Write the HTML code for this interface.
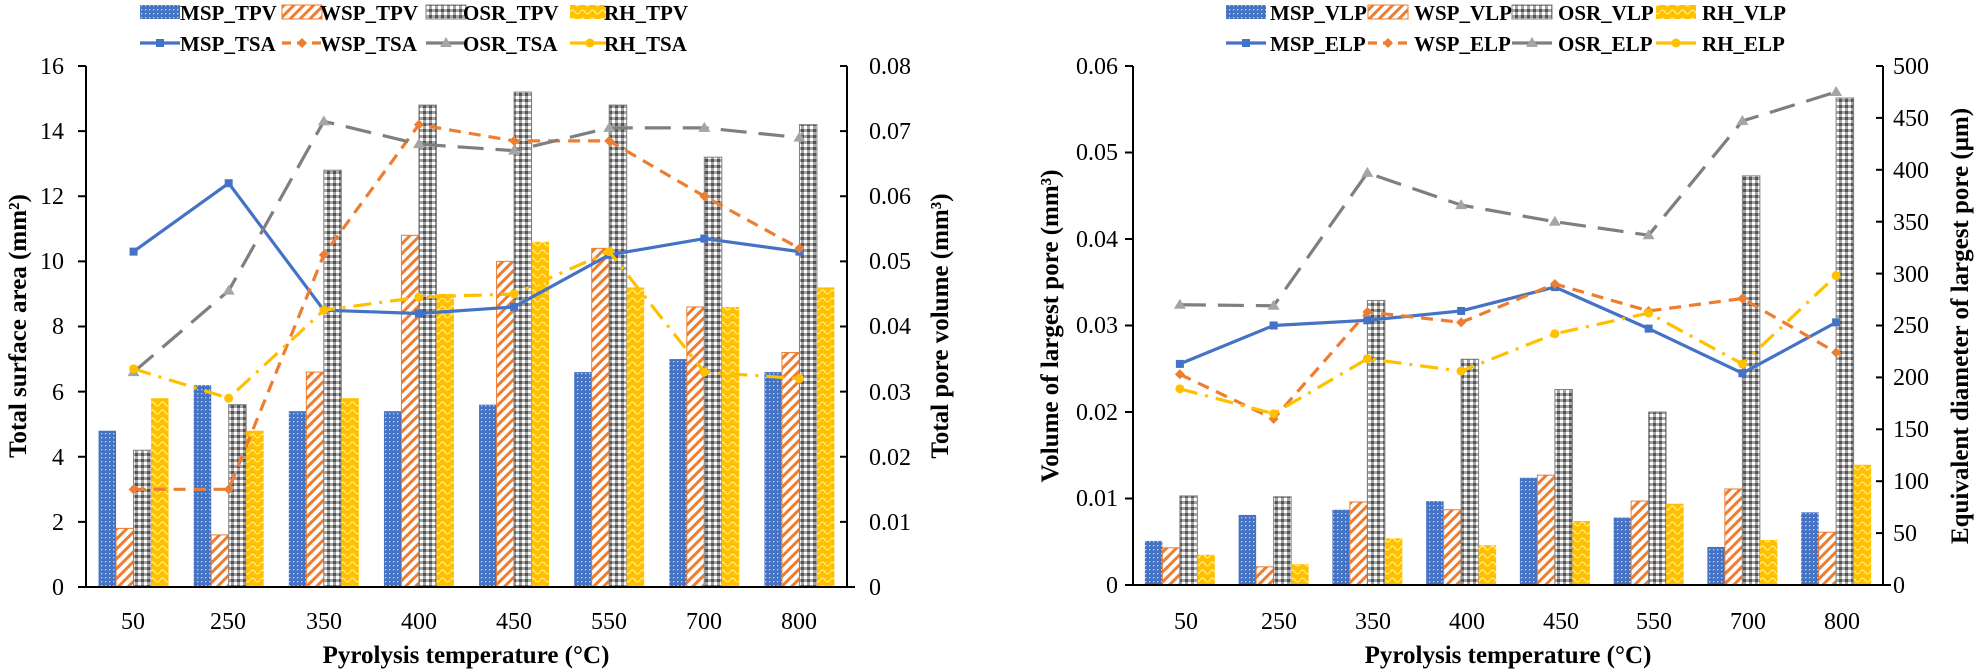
<!DOCTYPE html>
<html><head><meta charset="utf-8"><style>
html,body{margin:0;padding:0;background:#fff;}
svg{display:block;font-family:"Liberation Serif",serif;}
.t{font-size:24px;fill:#000}
.b{font-size:25px;font-weight:bold;fill:#000}
.l{font-size:21px;font-weight:bold;fill:#000}
</style></head><body>
<svg id="s" width="1984" height="670" viewBox="0 0 1984 670" xmlns="http://www.w3.org/2000/svg">
<defs>
<pattern id="pM" width="4" height="4" patternUnits="userSpaceOnUse"><rect width="4" height="4" fill="#4472C4"/><rect x="1" y="1" width="1.3" height="1.3" fill="#c9d6f0"/></pattern>
<pattern id="pW" width="7" height="7" patternUnits="userSpaceOnUse" patternTransform="rotate(45)"><rect width="7" height="7" fill="#fff"/><rect width="3" height="7" fill="#ED7D31"/></pattern>
<pattern id="pO" width="6" height="6" patternUnits="userSpaceOnUse"><rect width="6" height="6" fill="#a5a5a5"/><rect width="3" height="3" fill="#fff"/><rect x="3" y="3" width="3" height="3" fill="#555"/></pattern>
<pattern id="pR" width="10" height="8" patternUnits="userSpaceOnUse"><rect width="10" height="8" fill="#FFC000"/><path d="M0 4 Q2.5 0 5 4 T10 4" stroke="#fff3c0" stroke-width="1" fill="none"/></pattern>
</defs>
<g id="g"></g>
<g class="t" text-anchor="end">
<text x="64" y="74">16</text><text x="64" y="139">14</text><text x="64" y="204">12</text><text x="64" y="269">10</text><text x="64" y="334">8</text><text x="64" y="400">6</text><text x="64" y="465">4</text><text x="64" y="530">2</text><text x="64" y="595">0</text>
</g>
<g class="t" text-anchor="start">
<text x="869" y="74">0.08</text><text x="869" y="139">0.07</text><text x="869" y="204">0.06</text><text x="869" y="269">0.05</text><text x="869" y="334">0.04</text><text x="869" y="400">0.03</text><text x="869" y="465">0.02</text><text x="869" y="530">0.01</text><text x="869" y="595">0</text>
</g>
<g class="t" text-anchor="middle">
<text x="133" y="629">50</text><text x="228" y="629">250</text><text x="324" y="629">350</text><text x="419" y="629">400</text><text x="514" y="629">450</text><text x="609" y="629">550</text><text x="704" y="629">700</text><text x="799" y="629">800</text>
</g>
<text class="b" x="466" y="663" text-anchor="middle">Pyrolysis temperature (°C)</text>
<text class="b" transform="translate(26,326) rotate(-90)" text-anchor="middle">Total surface area (mm²)</text>
<text class="b" transform="translate(948,326) rotate(-90)" text-anchor="middle">Total pore volume (mm³)</text>
<g class="t" text-anchor="end">
<text x="1118" y="74">0.06</text><text x="1118" y="160">0.05</text><text x="1118" y="247">0.04</text><text x="1118" y="333">0.03</text><text x="1118" y="420">0.02</text><text x="1118" y="506">0.01</text><text x="1118" y="593">0</text>
</g>
<g class="t" text-anchor="start">
<text x="1893" y="74">500</text><text x="1893" y="126">450</text><text x="1893" y="178">400</text><text x="1893" y="230">350</text><text x="1893" y="282">300</text><text x="1893" y="333">250</text><text x="1893" y="385">200</text><text x="1893" y="437">150</text><text x="1893" y="489">100</text><text x="1893" y="541">50</text><text x="1893" y="593">0</text>
</g>
<g class="t" text-anchor="middle">
<text x="1186" y="629">50</text><text x="1279" y="629">250</text><text x="1373" y="629">350</text><text x="1467" y="629">400</text><text x="1561" y="629">450</text><text x="1654" y="629">550</text><text x="1748" y="629">700</text><text x="1842" y="629">800</text>
</g>
<text class="b" x="1508" y="663" text-anchor="middle">Pyrolysis temperature (°C)</text>
<text class="b" transform="translate(1058,326) rotate(-90)" text-anchor="middle">Volume of largest pore (mm³)</text>
<text class="b" transform="translate(1968,326) rotate(-90)" text-anchor="middle">Equivalent diameter of largest pore (μm)</text>
<g class="l">
<text x="180" y="20">MSP_TPV</text><text x="320" y="20">WSP_TPV</text><text x="463" y="20">OSR_TPV</text><text x="604" y="20">RH_TPV</text>
<text x="180" y="51">MSP_TSA</text><text x="320" y="51">WSP_TSA</text><text x="463" y="51">OSR_TSA</text><text x="604" y="51">RH_TSA</text>
<text x="1270" y="20">MSP_VLP</text><text x="1414" y="20">WSP_VLP</text><text x="1558" y="20">OSR_VLP</text><text x="1702" y="20">RH_VLP</text>
<text x="1270" y="51">MSP_ELP</text><text x="1414" y="51">WSP_ELP</text><text x="1558" y="51">OSR_ELP</text><text x="1702" y="51">RH_ELP</text>
</g>
</svg>
<script>
var g=document.getElementById('g'),NS='http://www.w3.org/2000/svg';
function el(t,a){var e=document.createElementNS(NS,t);for(var k in a)e.setAttribute(k,a[k]);g.appendChild(e);return e;}
var pats=['url(#pM)','url(#pW)','url(#pO)','url(#pR)'],cols=['#4472C4','#ED7D31','#7f7f7f','#FFC000'];
var dashes=['none','12,8','26,12','18,8,3,8'];
function marker(k,x,y){var c=cols[k];
 if(k==0)el('rect',{x:x-4,y:y-4,width:8,height:8,fill:c});
 else if(k==1)el('path',{d:'M'+x+' '+(y-5)+'l5 5l-5 5l-5-5z',fill:c});
 else if(k==2)el('path',{d:'M'+x+' '+(y-6)+'l6 10h-12z',fill:'#a5a5a5'});
 else el('circle',{cx:x,cy:y,r:4.5,fill:c});}
function chart(o){
 var cw=o.w/8;
 for(var s=0;s<4;s++)for(var i=0;i<8;i++){var cx=o.x0+cw*(i+.5),h=o.bars[s][i]/o.bmax*(o.base-o.top);
  el('rect',{x:cx-35+s*17.5,y:o.base-h,width:17.5,height:h,fill:pats[s],stroke:s==2?'#808080':(s==1?'#ED7D31':'none'),'stroke-width':1});}
 for(var s=0;s<4;s++){var p=[];for(var i=0;i<8;i++){p.push([o.x0+cw*(i+.5),o.base-o.lines[s][i]/o.lmax*(o.base-o.top)]);}
  el('polyline',{points:p.join(' '),fill:'none',stroke:cols[s],'stroke-width':3.2,'stroke-dasharray':dashes[s]});
  p.forEach(function(q){marker(s,q[0],q[1]);});}
 el('line',{x1:o.x0,y1:o.top,x2:o.x0,y2:o.base,stroke:'#000','stroke-width':2});
 el('line',{x1:o.x0+o.w,y1:o.top,x2:o.x0+o.w,y2:o.base,stroke:'#000','stroke-width':2});
 el('line',{x1:o.x0-8,y1:o.base,x2:o.x0+o.w+8,y2:o.base,stroke:'#000','stroke-width':2});
 for(var j=0;j<=o.lt;j++){var y=o.top+(o.base-o.top)*j/o.lt;el('line',{x1:o.x0+o.w-7,y1:y,x2:o.x0+o.w,y2:y,stroke:'#000','stroke-width':2});}
 for(var j=0;j<=o.bt;j++){var y=o.top+(o.base-o.top)*j/o.bt;el('line',{x1:o.x0-8,y1:y,x2:o.x0,y2:y,stroke:'#000','stroke-width':2});}
 var lx=o.lx,ls=[0,142,286,430];
 for(var s=0;s<4;s++){var x=lx+ls[s];
  el('rect',{x:x,y:5,width:40,height:14,fill:pats[s],stroke:s==1?'#ED7D31':(s==2?'#808080':'none')});
  el('line',{x1:x,y1:43,x2:x+40,y2:43,stroke:cols[s],'stroke-width':3.2,'stroke-dasharray':s==1?'9,6':'none'});
  marker(s,x+20,43);}
}
chart({x0:86,w:761,top:66,base:587,bmax:16,lmax:16,bt:8,lt:8,lx:140,
 bars:[[4.8,6.2,5.4,5.4,5.6,6.6,7.0,6.6],[1.8,1.6,6.6,10.8,10.0,10.4,8.6,7.2],[4.2,5.6,12.8,14.8,15.2,14.8,13.2,14.2],[5.8,4.8,5.8,9.0,10.6,9.2,8.6,9.2]],
 lines:[[10.3,12.4,8.5,8.4,8.6,10.2,10.7,10.3],[3.0,3.0,10.2,14.2,13.7,13.7,12.0,10.4],[6.6,9.1,14.3,13.6,13.4,14.1,14.1,13.8],[6.7,5.8,8.5,8.9,9.0,10.3,6.6,6.4]]});
chart({x0:1133,w:750,top:66,base:585,bmax:0.06,lmax:500,bt:6,lt:10,lx:1226,
 bars:[[0.0051,0.0081,0.0087,0.0097,0.0124,0.0078,0.0044,0.0084],[0.0043,0.0021,0.0096,0.0087,0.0127,0.0097,0.0111,0.0061],[0.0103,0.0102,0.0329,0.0261,0.0226,0.0200,0.0473,0.0563],[0.0035,0.0024,0.0054,0.0046,0.0074,0.0094,0.0052,0.0139]],
 lines:[[213,250,255,264,287,247,204,253],[203,160,263,253,290,264,276,224],[270,269,397,366,350,337,447,475],[189,165,218,206,242,262,213,298]]});
</script>
</body></html>
